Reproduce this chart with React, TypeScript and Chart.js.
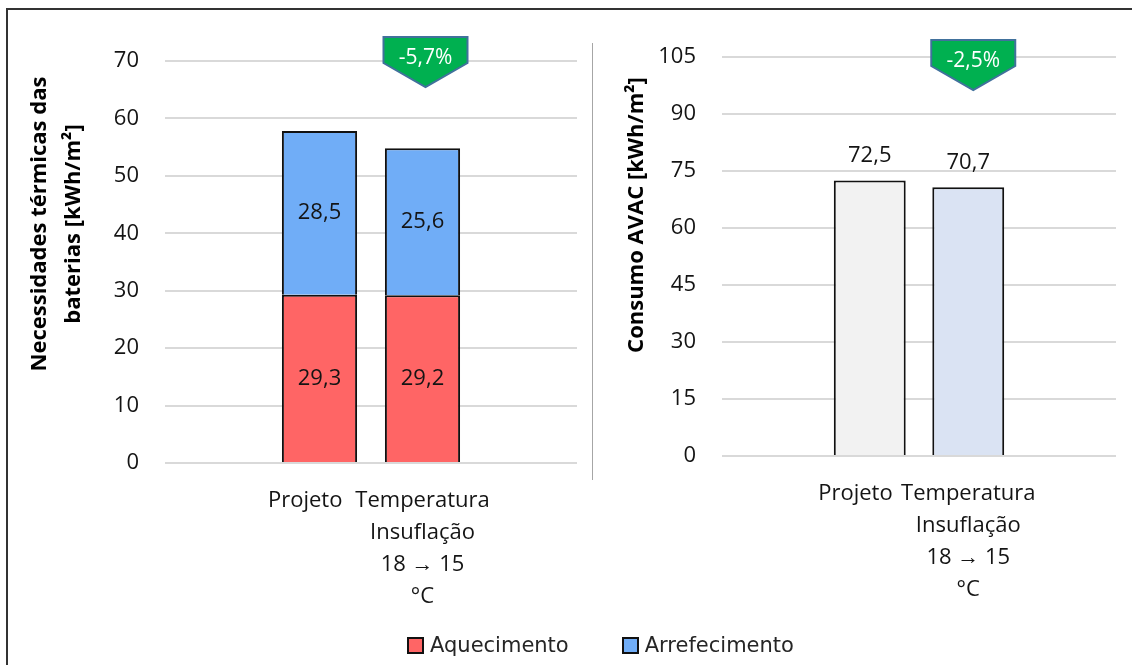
import React, { useEffect, useRef } from 'react';
import { Chart, registerables } from 'chart.js';

Chart.register(...registerables);

const FONT = "'Open Sans', sans-serif";
const TEXT = '#141414';
const GRID = '#d9d9d9';

// Categories: the empty slots at each end leave the side margin around the two bars
const categorias: (string | string[])[] = ['', 'Projeto', ['Temperatura', 'Insuflação', '18 → 15', '°C'], ''];

// Necessidades térmicas das baterias [kWh/m²]
const aquecimento: (number | null)[] = [null, 29.3, 29.2, null];
const arrefecimento: (number | null)[] = [null, 28.5, 25.6, null];

// Consumo AVAC [kWh/m²]
const consumoAvac: (number | null)[] = [null, 72.5, 70.7, null];

const variacaoNecessidades = '-5,7%';
const variacaoConsumo = '-2,5%';

const eixoNecessidades = { min: 0, max: 70, passo: 10 };
const eixoConsumo = { min: 0, max: 105, passo: 15 };

const tituloNecessidades = ['Necessidades térmicas das', 'baterias [kWh/m²]'];
const tituloConsumo = ['Consumo AVAC [kWh/m²]'];

const series = [
  { nome: 'Aquecimento', cor: '#FF6565' },
  { nome: 'Arrefecimento', cor: '#70ADF7' },
];
const coresConsumo = ['rgba(0,0,0,0)', '#F2F2F2', '#DAE3F3', 'rgba(0,0,0,0)'];

const fmt = (v: number) => v.toFixed(1).replace('.', ',');

// Value labels: centred inside stacked segments, or above single bars
const rotuloValores = (modo: 'centro' | 'acima') => ({
  id: 'rotuloValores',
  afterDatasetsDraw(chart: any) {
    const ctx = chart.ctx;
    ctx.save();
    ctx.font = `22px ${FONT}`;
    ctx.fillStyle = TEXT;
    ctx.textAlign = 'center';
    ctx.textBaseline = 'middle';
    chart.data.datasets.forEach((ds: any, di: number) => {
      const meta = chart.getDatasetMeta(di);
      meta.data.forEach((el: any, i: number) => {
        const v = ds.data[i];
        if (v == null) return;
        const { x, y, base } = el.getProps(['x', 'y', 'base'], true);
        const ty = modo === 'centro' ? (y + base) / 2 : y - 25;
        ctx.fillText(fmt(v), x, ty);
      });
    });
    ctx.restore();
  },
});

// Green pentagon badge with the relative change, above the second bar
const selo = (texto: string, topo: number, dx: number) => ({
  id: 'selo',
  afterDatasetsDraw(chart: any) {
    const ctx = chart.ctx;
    const meta = chart.getDatasetMeta(chart.data.datasets.length - 1);
    const el = meta.data[2];
    const cx = el.x + dx;
    const top = chart.chartArea.top + topo;
    const w = 84, h = 26, p = 24;
    ctx.save();
    ctx.beginPath();
    ctx.moveTo(cx - w / 2, top);
    ctx.lineTo(cx + w / 2, top);
    ctx.lineTo(cx + w / 2, top + h);
    ctx.lineTo(cx, top + h + p);
    ctx.lineTo(cx - w / 2, top + h);
    ctx.closePath();
    ctx.fillStyle = '#00B050';
    ctx.fill();
    ctx.lineWidth = 2;
    ctx.lineJoin = 'miter';
    ctx.strokeStyle = '#41719C';
    ctx.stroke();
    ctx.fillStyle = '#ffffff';
    ctx.font = `21px ${FONT}`;
    ctx.textAlign = 'center';
    ctx.textBaseline = 'middle';
    ctx.fillText(texto, cx, top + 21);
    ctx.restore();
  },
});

// Rotated, bold, multi-line y-axis title
const tituloEixo = (linhas: string[], baseX: number, centroY: number) => ({
  id: 'tituloEixo',
  afterDraw(chart: any) {
    const ctx = chart.ctx;
    ctx.save();
    ctx.translate(baseX, centroY);
    ctx.rotate(-Math.PI / 2);
    ctx.font = `bold 22px ${FONT}`;
    ctx.fillStyle = '#000';
    ctx.textAlign = 'center';
    ctx.textBaseline = 'alphabetic';
    linhas.forEach((l, i) => ctx.fillText(l, 0, i * 34));
    ctx.restore();
  },
});

const tickFont = { family: FONT, size: 22, lineHeight: 1.45 };

const eixoX = (altura: number, padding: number, stacked: boolean) => ({
  stacked,
  grid: { display: false },
  border: { display: false },
  ticks: {
    autoSkip: false,
    maxRotation: 0,
    minRotation: 0,
    padding,
    color: TEXT,
    font: tickFont,
    callback: (v: number) => {
      const l = categorias[v];
      return l === 'Projeto' ? l + '     ' : l;
    },
  },
  afterFit: (s: any) => { s.height = altura; },
});

const eixoY = (cfg: { min: number; max: number; passo: number }, largura: number, stacked: boolean) => ({
  stacked,
  min: cfg.min,
  max: cfg.max,
  border: { display: false },
  grid: { color: GRID, lineWidth: 2, drawTicks: false },
  ticks: { stepSize: cfg.passo, padding: 26, color: TEXT, font: tickFont },
  afterFit: (s: any) => { s.width = largura; },
});

const estiloBarra = { borderColor: '#111', borderWidth: 2, barPercentage: 0.73, categoryPercentage: 1 };

function GraficoNecessidades() {
  const ref = useRef<HTMLCanvasElement>(null);
  useEffect(() => {
    const chart = new Chart(ref.current as HTMLCanvasElement, {
      type: 'bar',
      data: {
        labels: categorias as any,
        datasets: [
          { label: series[0].nome, data: aquecimento as any, backgroundColor: series[0].cor, ...estiloBarra },
          { label: series[1].nome, data: arrefecimento as any, backgroundColor: series[1].cor, ...estiloBarra },
        ],
      },
      options: {
        responsive: false,
        animation: false,
        devicePixelRatio: 1,
        layout: { padding: { top: 49, right: 15, left: 0, bottom: 0 } },
        plugins: { legend: { display: false }, tooltip: { enabled: false } },
        scales: {
          x: eixoX(149, 14, true) as any,
          y: eixoY(eixoNecessidades, 155, true) as any,
        },
      },
      plugins: [rotuloValores('centro'), selo(variacaoNecessidades, -24, 3), tituloEixo(tituloNecessidades, 36, 212)],
    });
    return () => chart.destroy();
  }, []);
  return <canvas ref={ref} width={582} height={600} style={{ position: 'absolute', left: 10, top: 12 }} />;
}

function GraficoConsumo() {
  const ref = useRef<HTMLCanvasElement>(null);
  useEffect(() => {
    const chart = new Chart(ref.current as HTMLCanvasElement, {
      type: 'bar',
      data: {
        labels: categorias as any,
        datasets: [
          { label: 'Consumo AVAC', data: consumoAvac as any, backgroundColor: coresConsumo, ...estiloBarra },
        ],
      },
      options: {
        responsive: false,
        animation: false,
        devicePixelRatio: 1,
        layout: { padding: { top: 45, right: 12, left: 0, bottom: 0 } },
        plugins: { legend: { display: false }, tooltip: { enabled: false } },
        scales: {
          x: eixoX(156, 14, false) as any,
          y: eixoY(eixoConsumo, 126, false) as any,
        },
      },
      plugins: [rotuloValores('acima'), selo(variacaoConsumo, -17, 5), tituloEixo(tituloConsumo, 47, 203)],
    });
    return () => chart.destroy();
  }, []);
  return <canvas ref={ref} width={532} height={600} style={{ position: 'absolute', left: 596, top: 12 }} />;
}

function Legenda() {
  return (
    <div
      style={{
        position: 'absolute', left: 407, top: 634, display: 'flex', alignItems: 'center',
        fontFamily: "'DejaVu Sans', sans-serif", fontSize: 21, lineHeight: '22px', color: '#262626',
        filter: 'blur(0.35px)', whiteSpace: 'nowrap',
      }}
    >
      {series.map((s, i) => (
        <div key={s.nome} style={{ display: 'flex', alignItems: 'center', marginRight: i === 0 ? 53 : 0 }}>
          <span style={{ width: 13, height: 13, background: s.cor, border: '2px solid #111', marginRight: 6 }} />
          <span>{s.nome}</span>
        </div>
      ))}
    </div>
  );
}

export default function App() {
  return (
    <div style={{ position: 'fixed', left: 0, top: 0, width: 1132, height: 665, overflow: 'hidden', background: '#fff' }}>
      <div
        style={{
          position: 'absolute', left: 6, top: 8, width: 1200, height: 720,
          borderLeft: '2px solid #333', borderTop: '2px solid #333',
        }}
      />
      <div style={{ position: 'absolute', left: 592, top: 43, width: 1, height: 437, background: '#a6a6a6' }} />
      <GraficoNecessidades />
      <GraficoConsumo />
      <Legenda />
    </div>
  );
}
